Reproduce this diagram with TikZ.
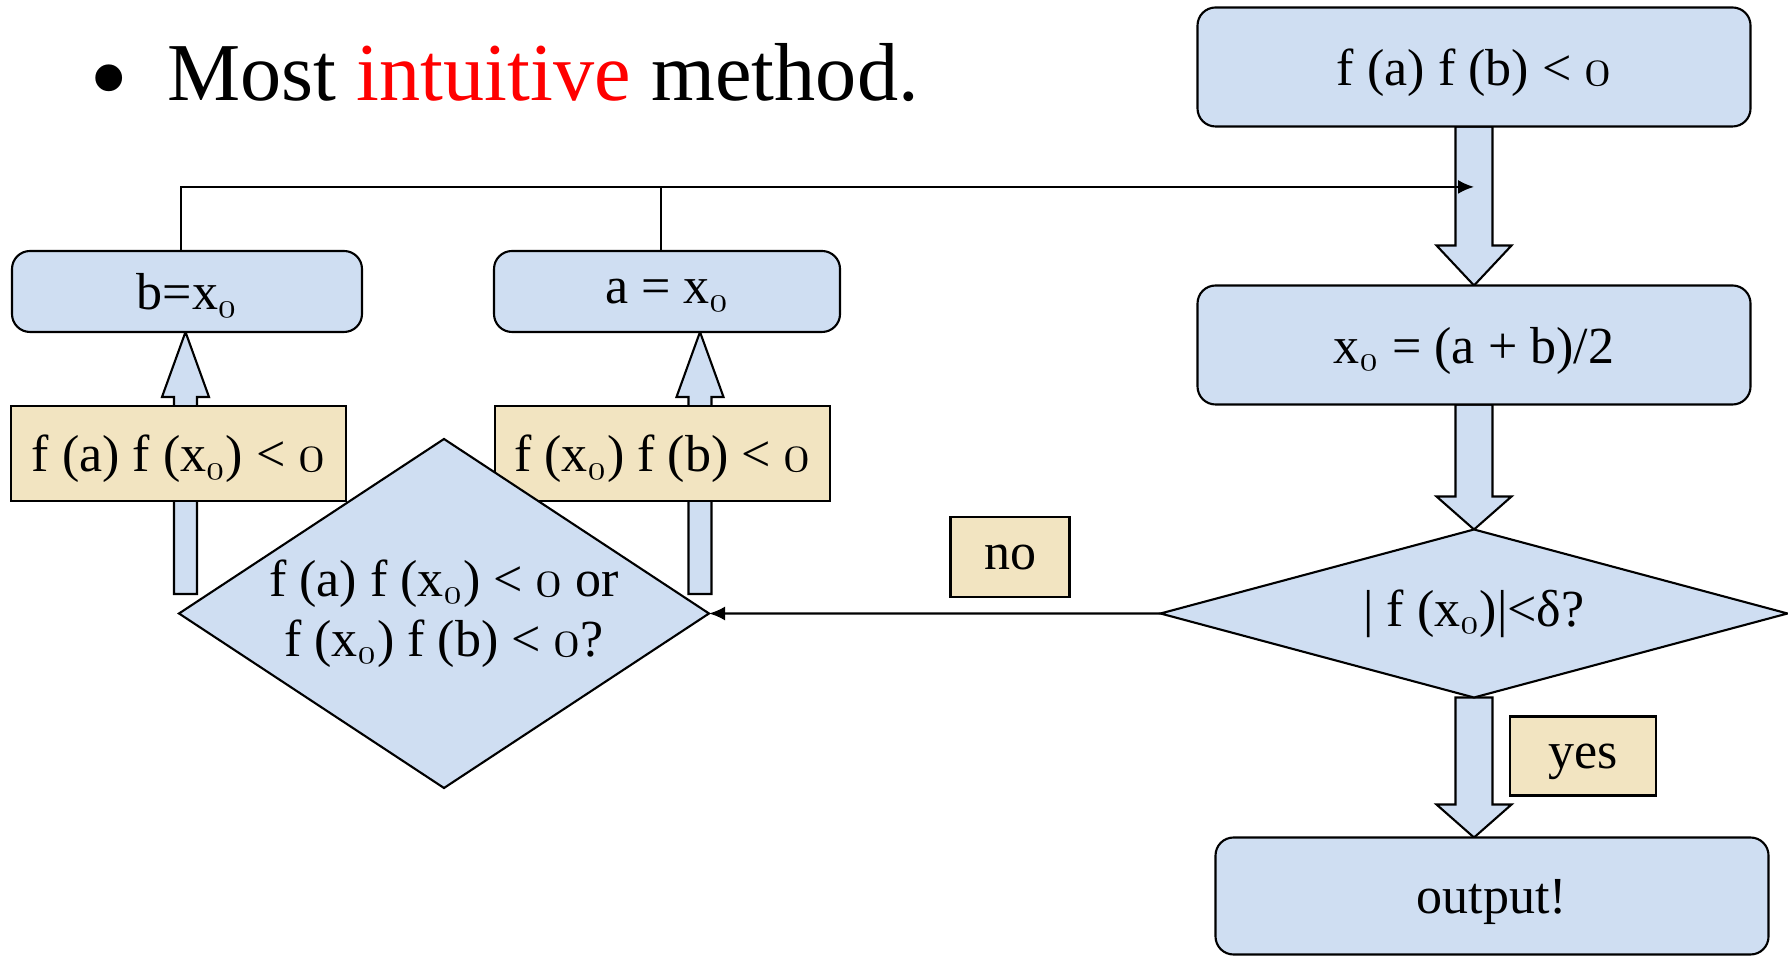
\documentclass[tikz,border=0pt]{standalone}
\usepackage{fontspec}
\usepackage{graphicx}
\setmainfont{Liberation Serif}
\usetikzlibrary{shapes.geometric, arrows.meta, positioning, calc, backgrounds}
\definecolor{boxblue}{RGB}{207,222,242}
\definecolor{notetan}{RGB}{242,228,193}
\newcommand{\zr}{\scalebox{1.08}{$\mathnormal{0}$}}
\newcommand{\xz}{x\textsubscript{$\mathnormal{0}$}}
% block arrow: from, to, shaft half width, head half width, head length
\newcommand{\fatarrow}[5]{%
  \draw[fat] let \p1=(#1), \p2=(#2), \p3=($(#2)!#5!(#1)$) in
    ({\x1-#3},\y1) -- ({\x1-#3},\y3) -- ({\x1-#4},\y3) -- (\x1,\y2)
    -- ({\x1+#4},\y3) -- ({\x1+#3},\y3) -- ({\x1+#3},\y1) -- cycle;}

\begin{document}
\begin{tikzpicture}[font=\fontsize{14.8}{17}\selectfont,
    block/.style={rectangle, draw, fill=boxblue, rounded corners=0.18cm, line width=0.6pt, inner sep=0pt, outer sep=0pt, text depth=0pt, minimum width=5.53cm, minimum height=1.19cm},
    small/.style={block, minimum width=3.50cm, minimum height=0.81cm},
    note/.style={rectangle, draw, fill=notetan, line width=0.6pt, inner sep=0pt, outer sep=0pt, text depth=0pt},
    test/.style={diamond, draw, fill=boxblue, line width=0.6pt, inner sep=0pt, outer sep=0pt, align=center},
    fat/.style={draw, fill=boxblue, line width=0.6pt},
    link/.style={line width=0.6pt},
    tip/.style={-{Latex[length=1.6mm, width=1.4mm]}}]

    \path[use as bounding box] (0,0) rectangle (17.88,9.56);

    % Title
    \node[anchor=base west, inner sep=0pt, font=\fontsize{23.4}{27}\selectfont] (title) at (0.89,8.55)
        {\raisebox{-0.15cm}{\fontsize{32}{32}\selectfont\textbullet}\hspace{0.38cm}Most \textcolor{red}{intuitive} method.};

    % Main column
    \node[block] (fab) at (14.74,8.89) {f (a) f (b) < \zr};
    \node[block, below=1.59cm of fab] (mid) {\xz{} = (a + b)/2};
    \node[test, below=1.25cm of mid, minimum width=6.27cm, minimum height=1.68cm, aspect=3.7] (check) {| f (\xz)|<δ?};
    \node[block, below=1.40cm of check, xshift=0.18cm, minimum height=1.17cm] (out) {output!};
    \node[note, minimum width=1.46cm, minimum height=0.79cm] (yes) at (15.83,2.00) {yes};
    \node[note, minimum width=1.19cm, minimum height=0.80cm] (no) at (10.10,3.99) {no};

    % Left part
    \node[small] (bx) at (1.87,6.645) {b=\xz};
    \node[small, right=1.32cm of bx, minimum width=3.46cm] (ax) {a = \xz};
    \node[note, minimum width=3.35cm, minimum height=0.95cm] (lcase) at (1.785,5.025) {f (a) f (\xz) < \zr};
    \node[note, right=1.49cm of lcase, minimum width=3.35cm, minimum height=0.95cm] (rcase) {f (\xz) f (b) < \zr};
    \node[test, minimum width=5.30cm, minimum height=3.49cm, aspect=1.52] (branch) at (4.44,3.425)
        {f (a) f (\xz) < \zr{} or\\f (\xz) f (b) < \zr?};

    \coordinate (lfoot) at (1.855,3.62);
    \coordinate (rfoot) at (7.00,3.62);
    \coordinate (hit) at ($(fab.south)!0.38!(mid.north)$);

    % Block arrows
    \begin{scope}[on background layer]
        \fatarrow{fab.south}{mid.north}{0.185cm}{0.375cm}{0.40cm}
        \fatarrow{mid.south}{check.north}{0.185cm}{0.375cm}{0.33cm}
        \fatarrow{check.south}{check.south |- out.north}{0.185cm}{0.375cm}{0.33cm}
        \fatarrow{lfoot}{lfoot |- bx.south}{0.115cm}{0.235cm}{0.65cm}
        \fatarrow{rfoot}{rfoot |- ax.south}{0.115cm}{0.235cm}{0.65cm}
    \end{scope}

    % Lines
    \draw[link] ([xshift=-0.06cm]bx.north) |- (ax.north |- hit);
    \draw[link, tip] ([xshift=-0.06cm]ax.north) |- (hit);
    \draw[link, tip] (check.west) -- (branch.east);

\end{tikzpicture}
\end{document}
